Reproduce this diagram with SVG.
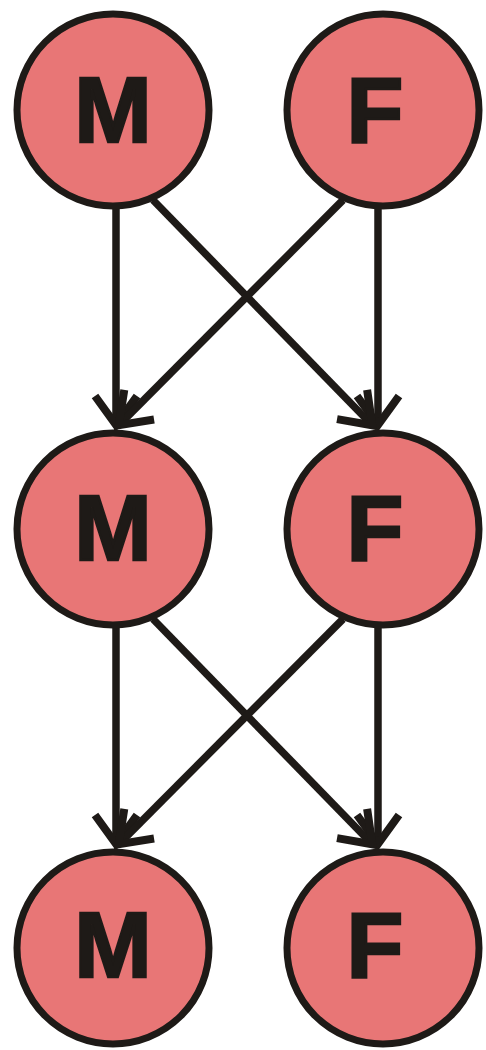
<svg xmlns="http://www.w3.org/2000/svg" width="486" height="1050" viewBox="0 0 486 1050">
<style>
.node circle{fill:#E87676;stroke:#1E1A17;stroke-width:7}
.node text{font-family:"Liberation Sans",Arial,sans-serif;font-weight:bold;font-size:93px;fill:#1E1A17;stroke:#1E1A17;stroke-width:2.5;stroke-linejoin:miter;text-anchor:middle}
.edge{stroke:#1E1A17;stroke-width:7.5;fill:none;marker-end:url(#arr)}
</style>
<defs>
<marker id="arr" markerUnits="userSpaceOnUse" viewBox="-40 -30 46 60" refX="0" refY="0" markerWidth="46" markerHeight="60" orient="auto" overflow="visible">
<path d="M-30,-21 L-1,0 L-30,21" fill="none" stroke="#1E1A17" stroke-width="8" stroke-linejoin="miter"/>
</marker>
</defs>
<rect width="486" height="1050" fill="#fff"/>
<g id="connectors">
<line class="edge" x1="116" y1="207" x2="116" y2="426"/>
<line class="edge" x1="378" y1="207" x2="378" y2="426"/>
<line class="edge" x1="153" y1="200" x2="373" y2="426"/>
<line class="edge" x1="343" y1="200" x2="118" y2="426"/>
<line class="edge" x1="116" y1="626" x2="116" y2="845"/>
<line class="edge" x1="378" y1="626" x2="378" y2="845"/>
<line class="edge" x1="153" y1="619" x2="373" y2="845"/>
<line class="edge" x1="343" y1="619" x2="118" y2="845"/>
</g>
<g id="m1" class="node"><circle cx="113" cy="110" r="96"/><text x="113" y="142">M</text></g>
<g id="f1" class="node"><circle cx="383" cy="110" r="96"/><text x="375" y="142">F</text></g>
<g id="m2" class="node"><circle cx="113" cy="529" r="96"/><text x="113" y="560">M</text></g>
<g id="f2" class="node"><circle cx="383" cy="529" r="96"/><text x="375" y="560">F</text></g>
<g id="m3" class="node"><circle cx="113" cy="948" r="96"/><text x="113" y="977">M</text></g>
<g id="f3" class="node"><circle cx="383" cy="948" r="96"/><text x="375" y="977">F</text></g>
</svg>
